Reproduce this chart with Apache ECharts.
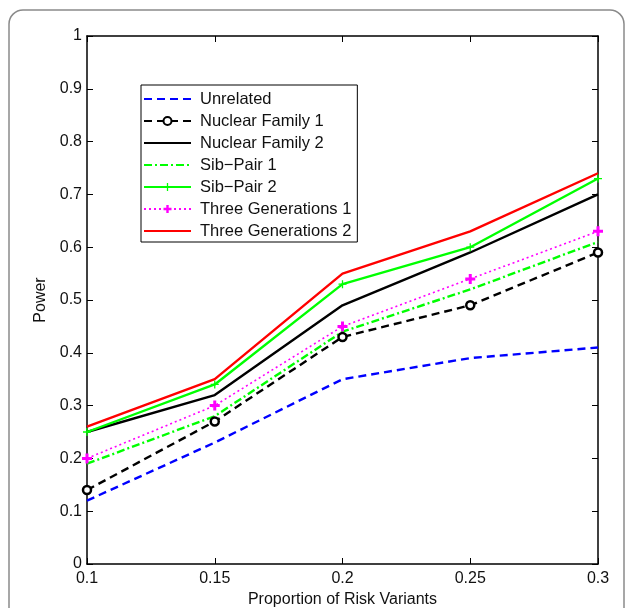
<!DOCTYPE html>
<html><head><meta charset="utf-8">
<script src="https://cdn.jsdelivr.net/npm/echarts@6/dist/echarts.min.js"></script>
<style>html,body{margin:0;padding:0;background:#fff}#c{width:627px;height:608px}</style>
</head><body><div id="c"></div>
<script>
var xValues = [0.1, 0.15, 0.2, 0.25, 0.3];
var unrelated = [0.12, 0.23, 0.35, 0.39, 0.41];
var nuclear1 = [0.14, 0.27, 0.43, 0.49, 0.59];
var nuclear2 = [0.25, 0.32, 0.49, 0.59, 0.70];
var sibPair1 = [0.19, 0.28, 0.44, 0.52, 0.61];
var sibPair2 = [0.25, 0.34, 0.53, 0.60, 0.73];
var threeGen1 = [0.20, 0.30, 0.45, 0.54, 0.63];
var threeGen2 = [0.26, 0.35, 0.55, 0.63, 0.74];
var seriesNames = ['Unrelated','Nuclear Family 1','Nuclear Family 2','Sib\u2212Pair 1','Sib\u2212Pair 2','Three Generations 1','Three Generations 2'];
var hasMarker = [false, true, false, false, true, true, false];

function pts(arr){ return xValues.map(function(x,i){ return [x, arr[i]]; }); }
var plusPath = 'path://M3.5,0H6.5V3.5H10V6.5H6.5V10H3.5V6.5H0V3.5H3.5Z';
var thinPlus = 'path://M4.2,0H5.8V4.2H10V5.8H5.8V10H4.2V5.8H0V4.2H4.2Z';
var FONT = 'Liberation Sans, Arial, Helvetica, sans-serif';

function mk(name, data, color, type, width, symbol, symSize, extra){
  var s = {
    name: name, type: 'line', data: pts(data),
    symbol: symbol || 'none', symbolSize: symSize || 0, showSymbol: !!symbol,
    lineStyle: {color: color, width: width, type: type},
    itemStyle: {color: color},
    z: 3, animation: false
  };
  if (extra) for (var k in extra) s[k] = extra[k];
  return s;
}

var chart = echarts.init(document.getElementById('c'), null, {renderer:'canvas'});
var axisCommon = {
  type: 'value', min: 0, max: 1, interval: 0.1,
  axisLine: {show: true, onZero: false, lineStyle: {color: '#000', width: 1.5}},
  axisTick: {show: true, inside: true, length: 6, lineStyle: {color: '#000', width: 1}},
  splitLine: {show: false}
};
var legendData = seriesNames.map(function(n, i){
  return hasMarker[i] ? {name: n} : {name: n, itemStyle: {color: 'rgba(0,0,0,0)', borderWidth: 0, opacity: 0}};
});
chart.setOption({
  animation: false,
  textStyle: {fontFamily: FONT},
  grid: {left: 87, right: 29, top: 36, bottom: 44, containLabel: false, outerBoundsMode: 'none'},
  graphic: [{type: 'rect', shape: {x: 9, y: 10, width: 615, height: 650, r: 14},
    style: {fill: 'none', stroke: '#8a8a8a', lineWidth: 1.5}, z: -10, silent: true}],
  xAxis: [
    Object.assign({}, axisCommon, {min: 0.1, max: 0.3, interval: 0.05, position: 'bottom',
      name: 'Proportion of Risk Variants', nameLocation: 'middle', nameGap: 28,
      nameTextStyle: {fontSize: 16, color: '#111', fontFamily: FONT},
      axisLabel: {fontSize: 16, color: '#111', margin: 7, fontFamily: FONT,
        formatter: function(v){ return String(parseFloat(v.toFixed(2))); }}}),
    Object.assign({}, axisCommon, {min: 0.1, max: 0.3, interval: 0.05, position: 'top',
      axisLabel: {show: false}})
  ],
  yAxis: [
    Object.assign({}, axisCommon, {position: 'left',
      name: 'Power', nameLocation: 'middle', nameGap: 36, nameRotate: 90,
      nameTextStyle: {fontSize: 16, color: '#111', fontFamily: FONT},
      axisLabel: {fontSize: 16, color: '#111', margin: 5, fontFamily: FONT,
        formatter: function(v){ return String(parseFloat(v.toFixed(1))); }}}),
    Object.assign({}, axisCommon, {position: 'right', axisLabel: {show: false}})
  ],
  legend: {
    show: true, orient: 'vertical', left: 141, top: 85,
    data: legendData,
    backgroundColor: '#fff', borderColor: '#000', borderWidth: 1,
    padding: [5, 6, 2, 2], itemGap: 4, itemWidth: 47, itemHeight: 10,
    textStyle: {fontSize: 16.5, color: '#111', fontFamily: FONT, lineHeight: 18, padding: [0, 0, 0, 4]},
    selectedMode: false
  },
  series: [
    mk(seriesNames[0], unrelated, '#0000ff', [8, 5], 2.4),
    mk(seriesNames[1], nuclear1, '#000000', [8, 5], 2.4, 'circle', 8,
      {itemStyle: {color: '#fff', borderColor: '#000', borderWidth: 2.5}}),
    mk(seriesNames[2], nuclear2, '#000000', 'solid', 2.4),
    mk(seriesNames[3], sibPair1, '#00ff00', [8, 3, 2, 3], 2.4),
    mk(seriesNames[4], sibPair2, '#00ff00', 'solid', 2.4, thinPlus, 8),
    mk(seriesNames[5], threeGen1, '#ff00ff', [2, 3], 1.6, plusPath, 10),
    mk(seriesNames[6], threeGen2, '#ff0000', 'solid', 2.4)
  ]
});
</script></body></html>
